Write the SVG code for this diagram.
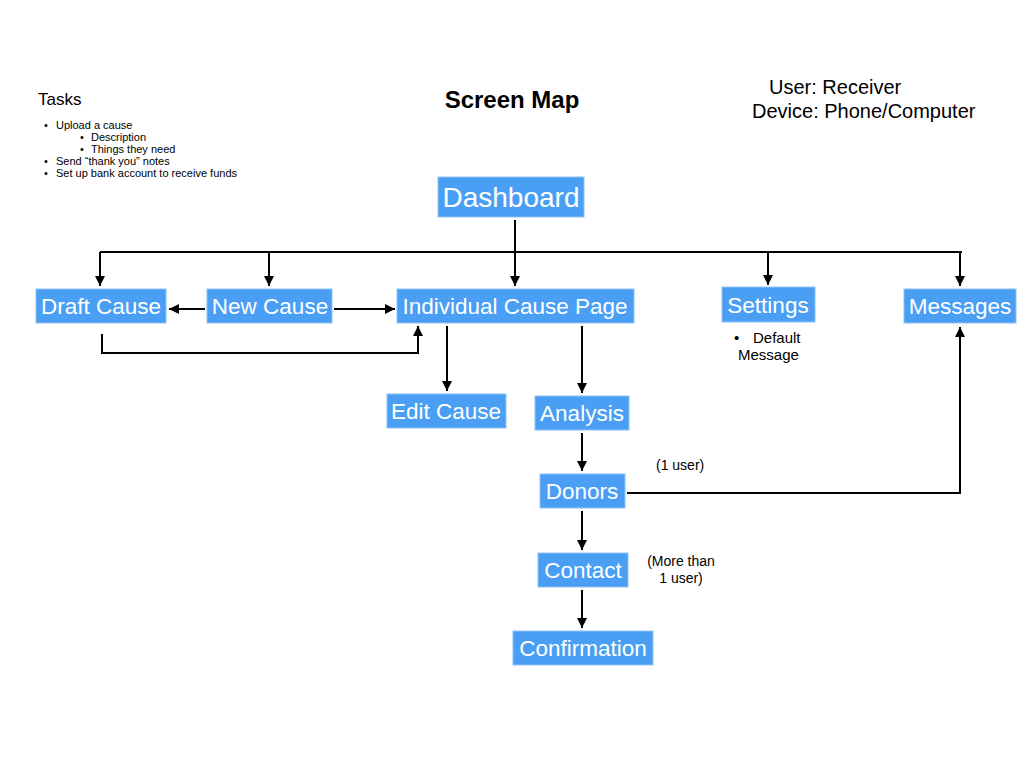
<svg xmlns="http://www.w3.org/2000/svg" width="1024" height="768" viewBox="0 0 1024 768">
<style>
.box{fill:#4a9ff5;stroke:#8ec3f7;stroke-width:1}
.lbl{font-family:"Liberation Sans",Arial,sans-serif;font-size:22.5px;fill:#fff;text-anchor:middle}
.big{font-size:28px}
.t{font-family:"Liberation Sans",Arial,sans-serif;fill:#000}
.c{fill:none;stroke:#000;stroke-width:2}
</style>
<defs>
<marker id="a" viewBox="0 0 10 10" refX="10" refY="5" markerWidth="5" markerHeight="5" orient="auto">
<path d="M0,0 L10,5 L0,10 z" fill="#000"/>
</marker>
</defs>
<rect width="1024" height="768" fill="#fff"/>
<text class="t" x="38" y="105" font-size="17">Tasks</text>
<g class="t" font-size="11">
<text x="44" y="129">•</text><text x="56" y="129">Upload a cause</text>
<text x="80" y="141">•</text><text x="91" y="141">Description</text>
<text x="80" y="153">•</text><text x="91" y="153">Things they need</text>
<text x="44" y="165">•</text><text x="56" y="165">Send “thank you” notes</text>
<text x="44" y="177">•</text><text x="56" y="177">Set up bank account to receive funds</text>
</g>
<text class="t" x="512" y="108" font-size="24" font-weight="bold" text-anchor="middle">Screen Map</text>
<text class="t" x="769" y="94" font-size="20">User: Receiver</text>
<text class="t" x="752" y="118" font-size="20">Device: Phone/Computer</text>
<g class="t" font-size="15">
<text x="734" y="343">•</text><text x="753" y="343">Default</text>
<text x="738" y="360">Message</text>
</g>
<g class="t" font-size="14">
<text x="656" y="470">(1 user)</text>
<text x="681" y="566" text-anchor="middle">(More than</text>
<text x="681" y="583" text-anchor="middle">1 user)</text>
</g>
<g id="connectors">
<path class="c" d="M515,220 V252"/>
<path class="c" d="M100,252 H962"/>
<path class="c" d="M100,252 V286" marker-end="url(#a)"/>
<path class="c" d="M269,252 V286" marker-end="url(#a)"/>
<path class="c" d="M515,252 V286" marker-end="url(#a)"/>
<path class="c" d="M768,252 V285" marker-end="url(#a)"/>
<path class="c" d="M960,252 V286" marker-end="url(#a)"/>
<path class="c" d="M205,309 H169" marker-end="url(#a)"/>
<path class="c" d="M334,309 H395" marker-end="url(#a)"/>
<path class="c" d="M102,334 V353 H418 V326" marker-end="url(#a)"/>
<path class="c" d="M447,326 V391" marker-end="url(#a)"/>
<path class="c" d="M582,326 V393" marker-end="url(#a)"/>
<path class="c" d="M582,433 V471" marker-end="url(#a)"/>
<path class="c" d="M627,493 H960 V327" marker-end="url(#a)"/>
<path class="c" d="M582,511 V550" marker-end="url(#a)"/>
<path class="c" d="M582,590 V628" marker-end="url(#a)"/>
</g>
<g id="dashboard"><rect class="box" x="438" y="177" width="146" height="40"/><text class="lbl big" x="511" y="207">Dashboard</text></g>
<g id="draft-cause"><rect class="box" x="36" y="289" width="130" height="34"/><text class="lbl" x="101" y="314">Draft Cause</text></g>
<g id="new-cause"><rect class="box" x="207" y="289" width="125" height="34"/><text class="lbl" x="270" y="314">New Cause</text></g>
<g id="individual-cause-page"><rect class="box" x="397" y="289" width="237" height="34"/><text class="lbl" x="515" y="314">Individual Cause Page</text></g>
<g id="settings"><rect class="box" x="722" y="287" width="93" height="35"/><text class="lbl" x="768" y="313">Settings</text></g>
<g id="messages"><rect class="box" x="904" y="289" width="112" height="34"/><text class="lbl" x="960" y="314">Messages</text></g>
<g id="edit-cause"><rect class="box" x="387" y="394" width="119" height="34"/><text class="lbl" x="446" y="419">Edit Cause</text></g>
<g id="analysis"><rect class="box" x="535" y="396" width="94" height="34"/><text class="lbl" x="582" y="421">Analysis</text></g>
<g id="donors"><rect class="box" x="540" y="474" width="85" height="34"/><text class="lbl" x="582" y="499">Donors</text></g>
<g id="contact"><rect class="box" x="538" y="553" width="90" height="34"/><text class="lbl" x="583" y="578">Contact</text></g>
<g id="confirmation"><rect class="box" x="513" y="631" width="140" height="34"/><text class="lbl" x="583" y="656">Confirmation</text></g>
</svg>
